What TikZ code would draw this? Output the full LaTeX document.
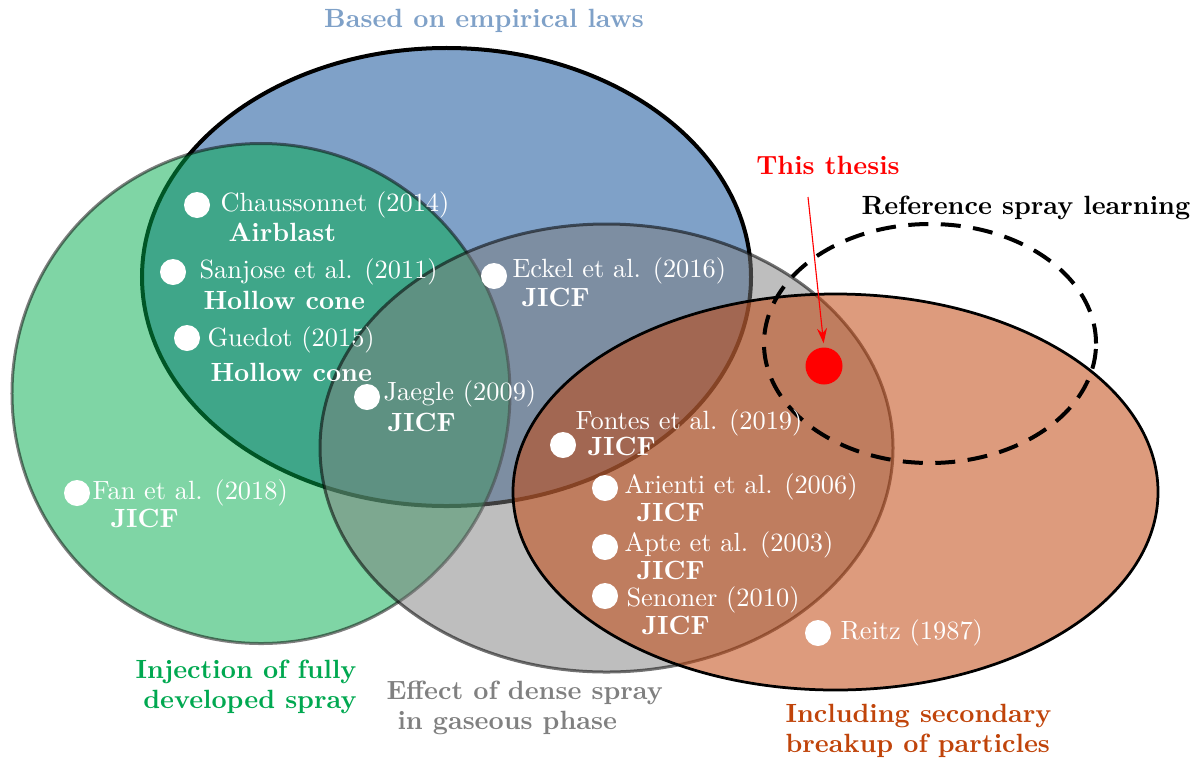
\documentclass[tikz,border=0pt]{standalone}
\usetikzlibrary{arrows.meta}
\definecolor{cblue}{RGB}{127,161,200}
\definecolor{cgreen}{RGB}{0,172,76}
\definecolor{cgray}{RGB}{125,125,125}
\definecolor{corange}{RGB}{193,72,18}
\definecolor{lblgreen}{RGB}{0,168,80}
\definecolor{lblgray}{RGB}{128,128,128}
\definecolor{lblorange}{RGB}{192,68,10}
\newcommand{\myfs}{\fontsize{10.55}{12}\selectfont}
\begin{document}
\begin{tikzpicture}[x=0.4pt,y=-0.4pt,
  dot/.style={circle,fill=white,draw=none,minimum size=10.4pt,inner sep=0},
  ref/.style={text=white,inner sep=0,anchor=west,font=\myfs},
  refb/.style={text=white,inner sep=0,anchor=west,font=\myfs\bfseries},
  lbl/.style={inner sep=0,font=\myfs\bfseries}]
\useasboundingbox (0,0) rectangle (1197,760);
% sets
\draw[line width=1.6pt,fill=cblue] (446.5,277) ellipse [x radius=121.8pt,y radius=91.6pt];
\draw[line width=1.2pt,fill=cgreen,fill opacity=0.5,draw opacity=0.5] (261,393.5) ellipse [x radius=99.6pt,y radius=100pt];
\draw[line width=1.2pt,fill=cgray,fill opacity=0.5,draw opacity=0.55] (606.5,448) ellipse [x radius=114.6pt,y radius=89.6pt];
\fill[corange,opacity=0.55] (835.5,492) ellipse [x radius=129pt,y radius=79.2pt];
\draw[line width=1.1pt] (835.5,492) ellipse [x radius=129pt,y radius=79.2pt];
\draw[line width=1.6pt,dash pattern=on 8pt off 5pt] (930,343.5) ellipse [x radius=66.4pt,y radius=47.8pt];
% set labels
\node[lbl,text=cblue] (lblue) at (484,21) {Based on empirical laws};
\node[lbl,text=lblgreen,align=right,anchor=east] (lgreen) at (357,687) {Injection of fully\\developed spray};
\node[lbl,text=lblgray,align=left,anchor=west] (lgray) at (386,707.5) {Effect of dense spray\\\hspace{4.4pt}in gaseous phase};
\node[lbl,text=lblorange,align=left,anchor=west] (lorange) at (785,730.5) {Including secondary\\breakup of particles};
\node[lbl,anchor=west] (lref) at (861,208) {Reference spray learning};
% references
\node[dot] (d1) at (197,205) {};
\node[ref] (t1) at (220,205) {Chaussonnet (2014)};
\node[refb] (b1) at (228,232) {Airblast};
\node[dot] (d2) at (173,272) {};
\node[ref] (t2) at (199,272) {Sanjose et al. (2011)};
\node[refb] (b2) at (203,300) {Hollow cone};
\node[dot] (d3) at (187,338) {};
\node[ref] (t3) at (207,340) {Guedot (2015)};
\node[refb] (b3) at (210,372) {Hollow cone};
\node[dot] (d4) at (367,397) {};
\node[ref] (t4) at (383,394) {Jaegle (2009)};
\node[refb] (b4) at (387,422) {JICF};
\node[dot] (d5) at (494,276) {};
\node[ref] (t5) at (512,271) {Eckel et al. (2016)};
\node[refb] (b5) at (521,297) {JICF};
\node[dot] (d6) at (77,493) {};
\node[ref] (t6) at (92,493) {Fan et al. (2018)};
\node[refb] (b6) at (110,518) {JICF};
\node[dot] (d7) at (563,445) {};
\node[ref] (t7) at (575,423) {Fontes et al. (2019)};
\node[refb] (b7) at (587,446) {JICF};
\node[dot] (d8) at (605,488) {};
\node[ref] (t8) at (624,487) {Arienti et al. (2006)};
\node[refb] (b8) at (636,512) {JICF};
\node[dot] (d9) at (605,547) {};
\node[ref] (t9) at (624,545) {Apte et al. (2003)};
\node[refb] (b9) at (636,570) {JICF};
\node[dot] (d10) at (605,596) {};
\node[ref] (t10) at (626,600) {Senoner (2010)};
\node[refb] (b10) at (641,625) {JICF};
\node[dot] (d11) at (818,633) {};
\node[ref] (t11) at (840,633) {Reitz (1987)};
% this thesis
\node[circle,fill=red,minimum size=14.8pt,inner sep=0] (thesis) at (824,366) {};
\node[lbl,text=red] (lthesis) at (828,165) {This thesis};
\coordinate (astart) at (808,197);
\draw[red,line width=0.45pt,-{Stealth[length=6pt,width=4pt]},shorten >=1.5pt] (astart) -- (thesis.north);
\end{tikzpicture}
\end{document}
